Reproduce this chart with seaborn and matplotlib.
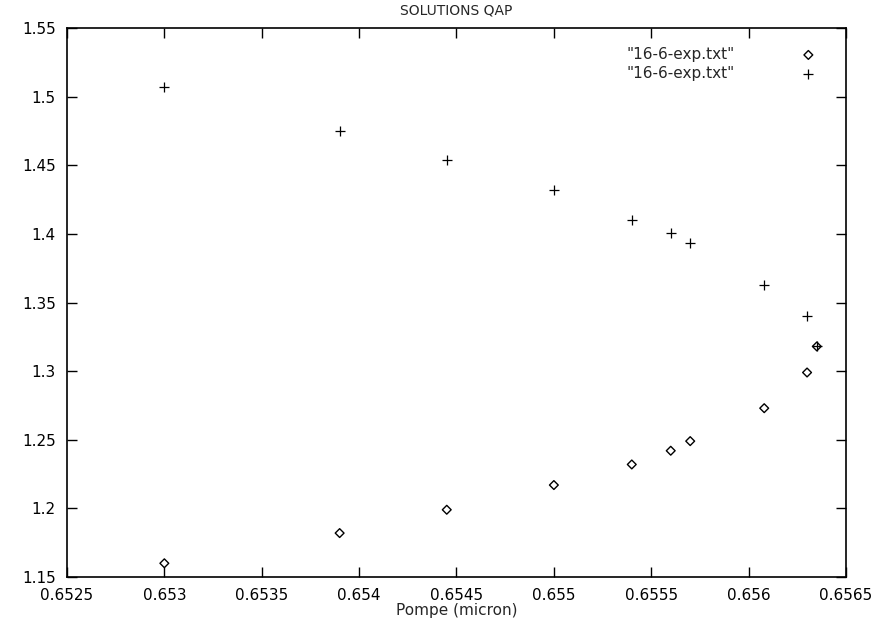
import numpy as np
import pandas as pd
import matplotlib
matplotlib.use("Agg")
import matplotlib.pyplot as plt
import seaborn as sns

# pump wavelength (micron) and the two solution branches
pompe = [0.6530, 0.6539, 0.65445, 0.6550, 0.6554, 0.6556, 0.6557, 0.65608, 0.6563, 0.65635]
branche_basse = [1.160, 1.182, 1.199, 1.217, 1.232, 1.242, 1.249, 1.273, 1.299, 1.318]
branche_haute = [1.507, 1.475, 1.454, 1.432, 1.410, 1.401, 1.393, 1.363, 1.340, 1.318]
label = '"16-6-exp.txt"'

x_ticks = np.arange(0.6525, 0.65651, 0.0005)
y_ticks = np.arange(1.15, 1.5501, 0.05)
x_labels = ["0.6525", "0.653", "0.6535", "0.654", "0.6545", "0.655", "0.6555", "0.656", "0.6565"]
y_labels = ["1.15", "1.2", "1.25", "1.3", "1.35", "1.4", "1.45", "1.5", "1.55"]

df_bas = pd.DataFrame({"x": pompe, "y": branche_basse})
df_haut = pd.DataFrame({"x": pompe, "y": branche_haute})

sns.set_style("ticks")
plt.rcParams["font.family"] = ["DejaVu Sans"]

fig = plt.figure(figsize=(8.72, 6.28), dpi=100)
ax = fig.add_axes([0.0768, 0.0812, 0.8934, 0.8742])

sns.scatterplot(data=df_bas, x="x", y="y", ax=ax, marker="D", s=20,
                facecolor="none", edgecolor="black", linewidth=1.0, label=label)
sns.scatterplot(data=df_haut, x="x", y="y", ax=ax, marker="+", s=50,
                color="black", linewidth=0.9, label=label)

ax.set_xlim(0.6525, 0.6565)
ax.set_ylim(1.15, 1.55)
ax.set_xticks(x_ticks)
ax.set_xticklabels(x_labels)
ax.set_yticks(y_ticks)
ax.set_yticklabels(y_labels)
ax.tick_params(direction="in", length=7, width=1, top=True, right=True,
               labelsize=11, colors="black")
ax.tick_params(axis="x", pad=8)
ax.tick_params(axis="y", pad=8)
for s in ax.spines.values():
    s.set_linewidth(1.2)
    s.set_color("black")

ax.set_title("SOLUTIONS QAP", fontsize=10, pad=10)
ax.set_xlabel("Pompe (micron)", fontsize=11, labelpad=0)
ax.set_ylabel("")

ax.legend(loc="upper right", frameon=False, markerfirst=False, fontsize=11,
          bbox_to_anchor=(0.985, 0.985), handletextpad=3.8, labelspacing=0.25,
          borderaxespad=0.3)

fig.savefig("out.png", dpi=100)
